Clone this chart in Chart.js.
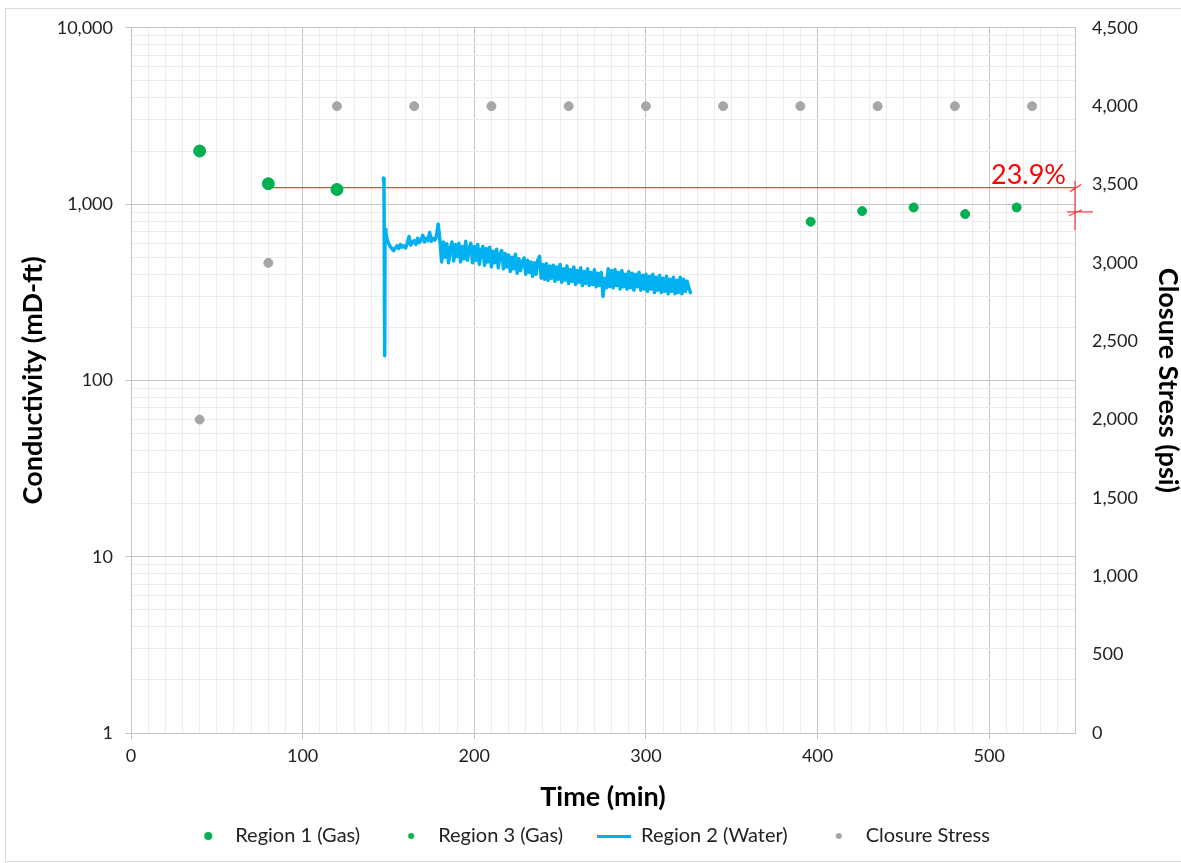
<!DOCTYPE html>
<html>
<head>
<meta charset="utf-8">
<script src="https://cdn.jsdelivr.net/npm/chart.js@4.4.1/dist/chart.umd.min.js"></script>
<style>
  body { margin: 0; background: #fff; }
  #wrap { position: relative; width: 1181px; height: 863px; overflow: hidden; }
  #frame { position: absolute; left: 5px; top: 8px; width: 1190px; height: 852px; border: 1px solid #d9d9d9; }
  canvas { position: absolute; left: 0; top: 0; }
</style>
</head>
<body>
<div id="wrap">
  <div id="frame"></div>
  <canvas id="chart" width="1181" height="863"></canvas>
</div>
<script>
// region 1 (gas) - first stress steps
var gas1Time = [40, 80, 120];
var gas1Cond = [2000, 1305, 1210];

// region 3 (gas) - after water
var gas3Time = [396, 426, 456, 486, 516];
var gas3Cond = [795, 913, 957, 878, 957];

// closure stress (psi, right axis)
var stressTime = [40, 80, 120, 165, 210, 255, 300, 345, 390, 435, 480, 525];
var stressPsi = [2000, 3000, 4000, 4000, 4000, 4000, 4000, 4000, 4000, 4000, 4000, 4000];

// region 2 (water)
var waterTime = [
  147, 147.4, 147.8, 148, 148.5,
  149, 150, 151, 152, 153, 154, 155, 156, 157, 158,
  159, 160, 161, 162, 163, 164, 165, 166, 167, 168,
  169, 170, 171, 172, 173, 174, 175, 176, 177, 178,
  179, 180, 181, 182, 183, 184, 185, 186, 187, 188,
  189, 190, 191, 192, 193, 194, 195, 196, 197, 198,
  199, 200, 201, 202, 203, 204, 205, 206, 207, 208,
  209, 210, 211, 212, 213, 214, 215, 216, 217, 218,
  219, 220, 221, 222, 223, 224, 225, 226, 227, 228,
  229, 230, 231, 232, 233, 234, 235, 236, 237, 238,
  239, 240, 241, 242, 243, 244, 245, 246, 247, 248,
  249, 250, 251, 252, 253, 254, 255, 256, 257, 258,
  259, 260, 261, 262, 263, 264, 265, 266, 267, 268,
  269, 270, 271, 272, 273, 274, 275, 276, 277, 278,
  279, 280, 281, 282, 283, 284, 285, 286, 287, 288,
  289, 290, 291, 292, 293, 294, 295, 296, 297, 298,
  299, 300, 301, 302, 303, 304, 305, 306, 307, 308,
  309, 310, 311, 312, 313, 314, 315, 316, 317, 318,
  319, 320, 321, 322, 323, 324, 325, 326
];
var waterCond = [
  1400, 1300, 138, 720, 690,
  640, 600, 575, 560, 545, 565, 580, 560, 590, 570,
  580, 565, 600, 655, 585, 610, 620, 590, 640, 605,
  625, 665, 610, 640, 620, 690, 615, 640, 625, 660,
  770, 620, 470, 610, 500, 595, 465, 560, 610, 475,
  590, 505, 600, 470, 575, 490, 615, 480, 560, 600,
  465, 575, 480, 590, 455, 545, 575, 450, 560, 470,
  570, 440, 540, 465, 555, 435, 520, 545, 430, 525,
  440, 515, 415, 500, 430, 520, 405, 490, 420, 470,
  495, 400, 480, 410, 470, 390, 465, 400, 480, 505,
  380, 455, 375, 460, 370, 445, 380, 450, 365, 440,
  375, 455, 360, 430, 370, 445, 355, 425, 365, 440,
  350, 420, 360, 435, 345, 415, 355, 430, 345, 410,
  350, 425, 340, 405, 345, 410, 300, 380, 335, 430,
  340, 420, 335, 425, 345, 410, 330, 420, 340, 400,
  330, 415, 335, 405, 325, 400, 340, 410, 325, 395,
  330, 400, 320, 390, 330, 400, 315, 385, 325, 395,
  315, 380, 320, 390, 310, 375, 320, 385, 310, 370,
  315, 385, 310, 375, 320, 365, 335, 315
];

// red difference marker
var diffLevel = 1240;
var diffLow = 904;
var diffTop = 1355;
var diffBottom = 713;
var diffLabel = '23.9%';

var xMax = 550;
var majorGrid = '#c4c4c4';
var minorGrid = '#ececec';

function pairs(xs, ys) {
  return xs.map(function(x, i) { return {x: x, y: ys[i]}; });
}

function dotImage(r, color) {
  var c = document.createElement('canvas');
  c.width = r * 2 + 2; c.height = r * 2 + 2;
  var g = c.getContext('2d');
  g.fillStyle = color;
  g.beginPath(); g.arc(r + 1, r + 1, r, 0, Math.PI * 2); g.fill();
  return c;
}
function lineImage(w, color) {
  var c = document.createElement('canvas');
  c.width = w; c.height = 3;
  var g = c.getContext('2d');
  g.fillStyle = color;
  g.fillRect(0, 0, w, 3);
  return c;
}
var legendIcons = [dotImage(4, '#00b050'), dotImage(3, '#00b050'), lineImage(34, '#00b0f0'), dotImage(3, '#a6a6a6')];

var diffPlugin = {
  id: 'diffMarker',
  afterDatasetsDraw: function(chart) {
    var ctx = chart.ctx;
    var xs = chart.scales.x, ys = chart.scales.y;
    var px = xs.getPixelForValue(xMax);
    var pyHi = ys.getPixelForValue(diffLevel);
    var pyLo = ys.getPixelForValue(diffLow);
    ctx.save();
    ctx.strokeStyle = '#ff3b3b';
    ctx.lineWidth = 1.2;
    ctx.beginPath();
    ctx.moveTo(px - 5, pyHi + 4); ctx.lineTo(px + 6, pyHi - 3);
    ctx.moveTo(px - 8, pyLo); ctx.lineTo(px + 18, pyLo);
    ctx.moveTo(px - 6, pyLo + 4); ctx.lineTo(px + 7, pyLo - 2);
    ctx.stroke();
    ctx.fillStyle = '#ff0000';
    ctx.font = '27px Lato';
    ctx.textAlign = 'right';
    ctx.textBaseline = 'alphabetic';
    ctx.fillText(diffLabel, px - 9, pyHi - 4);
    ctx.restore();
  }
};

var fmt = function(v) { return Number(v).toLocaleString('en-US'); };

Chart.defaults.font.family = 'Lato';
Chart.defaults.color = '#222';

new Chart(document.getElementById('chart'), {
  type: 'scatter',
  data: {
    datasets: [
      {
        label: 'Region 1 (Gas)',
        data: pairs(gas1Time, gas1Cond),
        backgroundColor: '#00b050',
        borderColor: '#00b050',
        pointRadius: 6,
        yAxisID: 'y'
      },
      {
        label: 'Region 3 (Gas)',
        data: pairs(gas3Time, gas3Cond),
        backgroundColor: '#00b050',
        borderColor: '#00b050',
        pointRadius: 4.5,
        yAxisID: 'y'
      },
      {
        label: 'Region 2 (Water)',
        type: 'line',
        data: pairs(waterTime, waterCond),
        borderColor: '#00b0f0',
        backgroundColor: '#00b0f0',
        borderWidth: 3.5,
        borderJoinStyle: 'round',
        borderCapStyle: 'round',
        pointRadius: 0,
        tension: 0,
        yAxisID: 'y'
      },
      {
        label: 'Closure Stress',
        data: pairs(stressTime, stressPsi),
        backgroundColor: '#a6a6a6',
        borderColor: '#a6a6a6',
        pointRadius: 4.5,
        yAxisID: 'y2'
      },
      {
        label: 'diff',
        type: 'line',
        data: [{x: 80, y: diffLevel}, {x: xMax, y: diffLevel}],
        borderColor: '#ff3b3b',
        borderWidth: 1.2,
        pointRadius: 0,
        clip: false,
        yAxisID: 'y'
      },
      {
        label: 'diffbar',
        type: 'line',
        data: [{x: xMax, y: diffTop}, {x: xMax, y: diffBottom}],
        borderColor: '#ff3b3b',
        borderWidth: 1.2,
        pointRadius: 0,
        clip: false,
        yAxisID: 'y'
      }
    ]
  },
  options: {
    responsive: false,
    animation: false,
    layout: { padding: { top: 27, left: 0, right: 0, bottom: 7 } },
    plugins: {
      tooltip: { enabled: false },
      legend: {
        display: true,
        position: 'bottom',
        labels: {
          usePointStyle: true,
          pointStyleWidth: 34,
          boxHeight: 8,
          padding: 34,
          font: { size: 20 },
          color: '#222',
          filter: function(item) { return item.datasetIndex < 4; },
          generateLabels: function(chart) {
            var items = Chart.defaults.plugins.legend.labels.generateLabels(chart);
            items.forEach(function(it) {
              if (it.datasetIndex < 4) it.pointStyle = legendIcons[it.datasetIndex];
            });
            return items;
          }
        }
      }
    },
    scales: {
      x: {
        type: 'linear',
        min: 0,
        max: xMax,
        afterBuildTicks: function(s) {
          var t = [];
          for (var v = 0; v <= xMax; v += 10) t.push({value: v, major: v % 100 === 0});
          s.ticks = t;
        },
        afterFit: function(s) { s.height = 59; },
        ticks: {
          autoSkip: false,
          maxRotation: 0,
          padding: 6,
          font: { size: 18 },
          callback: function(v, i, ticks) { return ticks[i].major ? String(v) : ''; }
        },
        grid: {
          color: function(c) { return c.tick && c.tick.major ? majorGrid : minorGrid; },
          tickColor: function(c) { return c.tick && c.tick.major ? majorGrid : 'rgba(0,0,0,0)'; },
          tickLength: 6
        },
        border: { display: false },
        title: {
          display: true,
          text: 'Time (min)',
          font: { size: 27, weight: 'bold' },
          color: '#000',
          padding: { top: 0, bottom: -21 }
        }
      },
      y: {
        type: 'logarithmic',
        position: 'left',
        min: 1,
        max: 10000,
        afterBuildTicks: function(s) {
          var t = [];
          for (var e = 0; e < 4; e++) {
            for (var m = 1; m < 10; m++) t.push({value: m * Math.pow(10, e), major: m === 1});
          }
          t.push({value: 10000, major: true});
          s.ticks = t;
        },
        afterFit: function(s) { s.width = 131; },
        ticks: {
          autoSkip: false,
          padding: 12,
          font: { size: 18 },
          callback: function(v, i, ticks) { return ticks[i].major ? fmt(v) : ''; }
        },
        grid: {
          color: function(c) { return c.tick && c.tick.major ? majorGrid : minorGrid; },
          tickColor: function(c) { return c.tick && c.tick.major ? majorGrid : 'rgba(0,0,0,0)'; },
          tickLength: 6
        },
        border: { display: true, color: majorGrid },
        title: {
          display: true,
          text: 'Conductivity (mD-ft)',
          font: { size: 27, weight: 'bold' },
          color: '#000',
          padding: { top: 17, bottom: 0 }
        }
      },
      y2: {
        type: 'linear',
        position: 'right',
        min: 0,
        max: 4500,
        afterFit: function(s) { s.width = 106; },
        ticks: {
          stepSize: 500,
          padding: 17,
          font: { size: 18 },
          callback: function(v) { return fmt(v); }
        },
        grid: { drawOnChartArea: false, drawTicks: false },
        border: { display: true, color: majorGrid },
        title: {
          display: true,
          text: 'Closure Stress (psi)',
          font: { size: 27, weight: 'bold' },
          color: '#000',
          padding: { top: -3, bottom: 0 }
        }
      }
    }
  },
  plugins: [diffPlugin]
});
</script>
</body>
</html>
